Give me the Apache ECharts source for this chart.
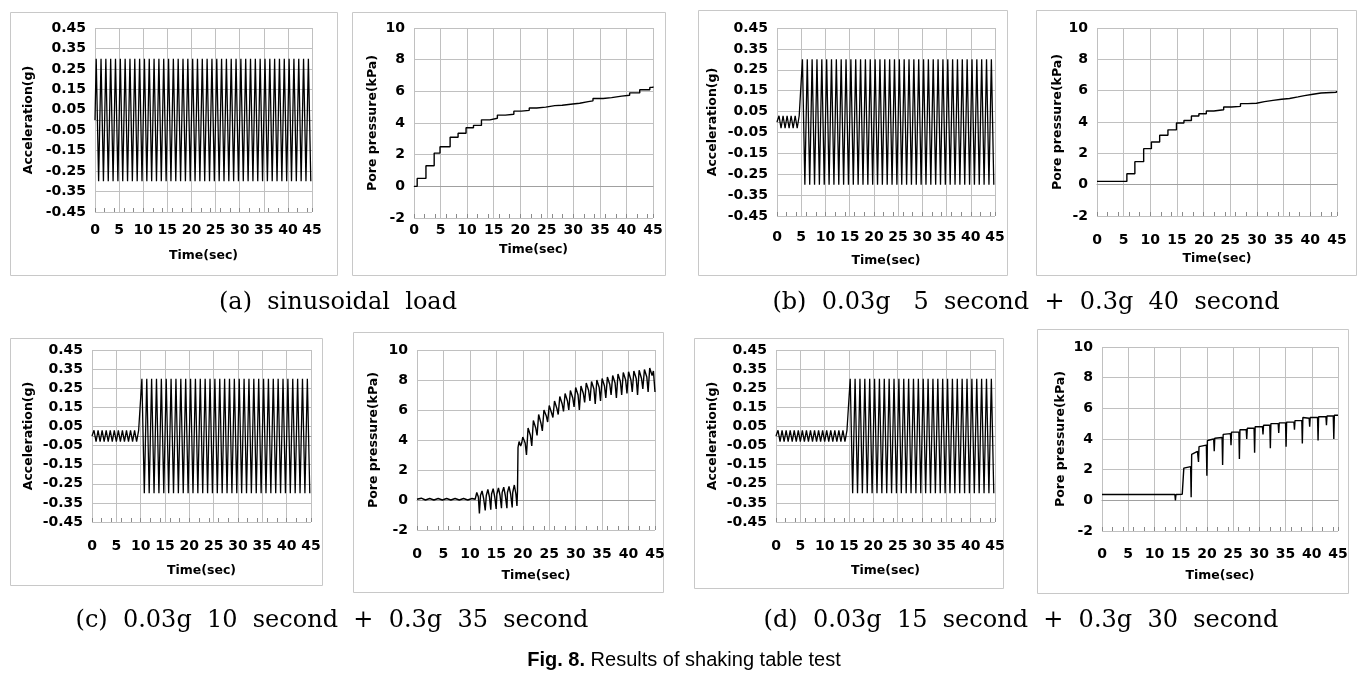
<!DOCTYPE html>
<html lang="en">
<head>
<meta charset="UTF-8">
<title>Fig. 8</title>
<style>
  html, body { margin: 0; padding: 0; background: #fff; }
  #main { width: 1368px; height: 681px; }
</style>
</head>
<body>
<div id="main"></div>
<script src="https://cdn.jsdelivr.net/npm/echarts@6/dist/echarts.min.js"></script>
<script>
// ---- data ----
// acceleration: extremes of the 0.03g part (1.2 Hz) and the 0.3g part (1 Hz)
const SMALL_STEP = 5 / 12;   // half period of the 0.03g shaking
const BIG_STEP = 0.5;        // half period of the 0.3g shaking
const accSwitch = [0, 5, 10, 15];  // when the 0.3g shaking starts, (a)..(d)

const accSmallA = [0];
const accBigA = [
  0.3, -0.3, 0.3, -0.3, 0.3, -0.3, 0.3, -0.3, 0.3, -0.3,
  0.3, -0.3, 0.3, -0.3, 0.3, -0.3, 0.3, -0.3, 0.3, -0.3,
  0.3, -0.3, 0.3, -0.3, 0.3, -0.3, 0.3, -0.3, 0.3, -0.3,
  0.3, -0.3, 0.3, -0.3, 0.3, -0.3, 0.3, -0.3, 0.3, -0.3,
  0.3, -0.3, 0.3, -0.3, 0.3, -0.3, 0.3, -0.3, 0.3, -0.3,
  0.3, -0.3, 0.3, -0.3, 0.3, -0.3, 0.3, -0.3, 0.3, -0.3,
  0.3, -0.3, 0.3, -0.3, 0.3, -0.3, 0.3, -0.3, 0.3, -0.3,
  0.3, -0.3, 0.3, -0.3, 0.3, -0.3, 0.3, -0.3, 0.3, -0.3,
  0.3, -0.3, 0.3, -0.3, 0.3, -0.3, 0.3, -0.3, 0.3, -0.3
];

const accSmallB = [0, 0.03, -0.03, 0.03, -0.03, 0.03, -0.03, 0.03, -0.03, 0.03, -0.03, 0.03];
const accBigB = [
  0.3, -0.3, 0.3, -0.3, 0.3, -0.3, 0.3, -0.3, 0.3, -0.3,
  0.3, -0.3, 0.3, -0.3, 0.3, -0.3, 0.3, -0.3, 0.3, -0.3,
  0.3, -0.3, 0.3, -0.3, 0.3, -0.3, 0.3, -0.3, 0.3, -0.3,
  0.3, -0.3, 0.3, -0.3, 0.3, -0.3, 0.3, -0.3, 0.3, -0.3,
  0.3, -0.3, 0.3, -0.3, 0.3, -0.3, 0.3, -0.3, 0.3, -0.3,
  0.3, -0.3, 0.3, -0.3, 0.3, -0.3, 0.3, -0.3, 0.3, -0.3,
  0.3, -0.3, 0.3, -0.3, 0.3, -0.3, 0.3, -0.3, 0.3, -0.3,
  0.3, -0.3, 0.3, -0.3, 0.3, -0.3, 0.3, -0.3, 0.3, -0.3
];

const accSmallC = [
  0, 0.03, -0.03, 0.03, -0.03, 0.03, -0.03, 0.03, -0.03, 0.03, -0.03, 0.03,
  -0.03, 0.03, -0.03, 0.03, -0.03, 0.03, -0.03, 0.03, -0.03, 0.03, -0.03, 0.03
];
const accBigC = [
  0.3, -0.3, 0.3, -0.3, 0.3, -0.3, 0.3, -0.3, 0.3, -0.3,
  0.3, -0.3, 0.3, -0.3, 0.3, -0.3, 0.3, -0.3, 0.3, -0.3,
  0.3, -0.3, 0.3, -0.3, 0.3, -0.3, 0.3, -0.3, 0.3, -0.3,
  0.3, -0.3, 0.3, -0.3, 0.3, -0.3, 0.3, -0.3, 0.3, -0.3,
  0.3, -0.3, 0.3, -0.3, 0.3, -0.3, 0.3, -0.3, 0.3, -0.3,
  0.3, -0.3, 0.3, -0.3, 0.3, -0.3, 0.3, -0.3, 0.3, -0.3,
  0.3, -0.3, 0.3, -0.3, 0.3, -0.3, 0.3, -0.3, 0.3, -0.3
];

const accSmallD = [
  0, 0.03, -0.03, 0.03, -0.03, 0.03, -0.03, 0.03, -0.03, 0.03, -0.03, 0.03,
  -0.03, 0.03, -0.03, 0.03, -0.03, 0.03, -0.03, 0.03, -0.03, 0.03, -0.03, 0.03,
  -0.03, 0.03, -0.03, 0.03, -0.03, 0.03, -0.03, 0.03, -0.03, 0.03, -0.03, 0.03
];
const accBigD = [
  0.3, -0.3, 0.3, -0.3, 0.3, -0.3, 0.3, -0.3, 0.3, -0.3,
  0.3, -0.3, 0.3, -0.3, 0.3, -0.3, 0.3, -0.3, 0.3, -0.3,
  0.3, -0.3, 0.3, -0.3, 0.3, -0.3, 0.3, -0.3, 0.3, -0.3,
  0.3, -0.3, 0.3, -0.3, 0.3, -0.3, 0.3, -0.3, 0.3, -0.3,
  0.3, -0.3, 0.3, -0.3, 0.3, -0.3, 0.3, -0.3, 0.3, -0.3,
  0.3, -0.3, 0.3, -0.3, 0.3, -0.3, 0.3, -0.3, 0.3, -0.3
];

// pore pressure (kPa), [time, value]
const poreA = [
  [0, 0], [0.6, 0.5], [2.25, 1.3], [3.8, 2.1], [4.9, 2.5], [6.8, 3.1], [8.3, 3.35],
  [9.8, 3.7], [11.2, 3.85], [12.7, 4.2], [14.3, 4.3], [15.7, 4.5], [17.2, 4.55],
  [18.8, 4.75], [20.2, 4.8], [21.7, 4.95], [23.1, 5.0], [24.8, 5.1], [26.5, 5.12],
  [27.9, 5.2], [29.9, 5.25], [31.2, 5.35], [32.8, 5.4], [33.7, 5.55], [35.6, 5.6],
  [37.2, 5.7], [39.1, 5.75], [40.6, 5.9], [42.5, 6.1], [44.4, 6.25], [45, 6.3]
];
const poreB = [
  [0, 0.21], [5.6, 0.7], [7.1, 1.47], [8.75, 2.3], [10.2, 2.72], [11.75, 3.15],
  [13.3, 3.5], [14.9, 3.94], [16.3, 4.1], [17.7, 4.38], [19.1, 4.53], [20.5, 4.7],
  [21.9, 4.78], [23.75, 4.96], [25.2, 5.0], [26.9, 5.17], [28.3, 5.2], [29.9, 5.3],
  [31.4, 5.38], [33, 5.45], [34.6, 5.5], [36.1, 5.6], [37.7, 5.68], [38.9, 5.77],
  [40.5, 5.85], [42, 5.9], [44.9, 5.98], [45, 5.98]
];
const poreC = [
  [0, 0.05], [0.8, 0.12], [1.6, 0.0], [2.4, 0.1], [3.2, 0.0], [4.0, 0.1], [4.8, 0.0],
  [5.6, 0.1], [6.4, 0.0], [7.2, 0.1], [8.0, 0.0], [8.8, 0.1], [9.6, 0.0], [10.4, 0.1],
  [11.0, 0.05], [11.3, 0.5], [11.6, 0.2], [11.8, -0.9], [12.0, 0.3], [12.3, 0.6],
  [12.6, 0.1], [12.9, -0.7], [13.1, 0.3], [13.4, 0.7], [13.7, 0.2], [13.95, -0.65],
  [14.1, 0.4], [14.4, 0.75], [14.7, 0.2], [14.97, -0.6], [15.1, 0.4], [15.4, 0.8],
  [15.7, 0.3], [15.97, -0.55], [16.1, 0.5], [16.4, 0.85], [16.7, 0.3], [17.0, -0.55],
  [17.1, 0.5], [17.4, 0.9], [17.7, 0.4], [18.0, -0.5], [18.1, 0.5], [18.4, 1.0],
  [18.7, 0.4], [18.9, -0.4], [19.0, 0.6], [19.1, 3.5], [19.3, 3.9], [19.6, 3.6],
  [19.8, 3.8], [20.0, 4.2], [20.45, 3.8], [20.7, 3.0], [21.0, 4.8], [21.45, 4.3],
  [21.7, 3.6], [22.0, 5.3], [22.45, 4.8], [22.7, 4.3], [23.0, 5.7], [23.45, 5.1],
  [23.7, 4.6], [24.0, 6.0], [24.45, 5.6], [24.7, 5.2], [25.0, 6.3], [25.45, 5.8],
  [25.7, 5.5], [26.0, 6.6], [26.45, 6.1], [26.7, 5.7], [27.0, 6.9], [27.45, 6.4],
  [27.7, 5.9], [28.0, 7.1], [28.45, 6.6], [28.7, 6.0], [29.0, 7.3], [29.45, 6.8],
  [29.7, 6.2], [30.0, 7.5], [30.45, 7.0], [30.7, 6.0], [31.0, 7.6], [31.45, 7.1],
  [31.7, 6.5], [32.0, 7.8], [32.45, 7.3], [32.7, 6.6], [33.0, 7.9], [33.45, 7.4],
  [33.7, 6.4], [34.0, 8.0], [34.45, 7.5], [34.7, 6.6], [35.0, 8.1], [35.45, 7.6],
  [35.7, 6.8], [36.0, 8.2], [36.45, 7.7], [36.7, 7.0], [37.0, 8.3], [37.45, 7.8],
  [37.7, 6.8], [38.0, 8.4], [38.45, 7.9], [38.7, 7.0], [39.0, 8.5], [39.45, 8.0],
  [39.7, 7.1], [40.0, 8.55], [40.45, 8.0], [40.7, 7.2], [41.0, 8.6], [41.45, 8.1],
  [41.7, 7.0], [42.0, 8.65], [42.45, 8.1], [42.7, 7.4], [43.0, 8.7], [43.45, 8.2],
  [43.7, 7.2], [44.0, 8.8], [44.45, 8.3], [44.7, 8.6], [45.0, 7.2]
];
const poreD = [
  [0, 0.38], [13.9, 0.38], [14.0, 0.0], [14.1, 0.38], [15.3, 0.4], [15.6, 2.1],
  [15.8, 2.2], [16.9, 2.2], [17.0, 0.2], [17.1, 3.0], [17.3, 3.1], [18.2, 3.2],
  [18.4, 2.5], [18.5, 3.5], [19.9, 3.6], [20.0, 1.6], [20.1, 3.9], [21.3, 4.0],
  [21.4, 3.2], [21.5, 4.05], [22.9, 4.1], [23.0, 2.3], [23.1, 4.3], [24.5, 4.35],
  [24.6, 3.6], [24.7, 4.45], [26.1, 4.45], [26.2, 2.7], [26.3, 4.6], [27.5, 4.6],
  [27.6, 4.0], [27.7, 4.7], [29.0, 4.7], [29.1, 3.1], [29.2, 4.8], [30.6, 4.8],
  [30.7, 4.3], [30.8, 4.9], [32.0, 4.9], [32.1, 3.4], [32.2, 5.0], [33.6, 5.0],
  [33.7, 4.4], [33.8, 5.05], [35.0, 5.05], [35.1, 3.5], [35.2, 5.1], [36.6, 5.1],
  [36.7, 4.6], [36.8, 5.2], [38.1, 5.2], [38.2, 3.7], [38.3, 5.4], [39.5, 5.35],
  [39.6, 4.8], [39.7, 5.4], [41.1, 5.4], [41.2, 3.9], [41.3, 5.45], [42.7, 5.45],
  [42.8, 4.9], [42.9, 5.5], [44.1, 5.5], [44.2, 4.0], [44.3, 5.55], [45, 5.55]
];

const captions = [
  '(a)  sinusoidal  load',
  '(b)  0.03g   5  second  +  0.3g  40  second',
  '(c)  0.03g  10  second  +  0.3g  35  second',
  '(d)  0.03g  15  second  +  0.3g  30  second'
];

function waveData(small, big, switchT) {
  const pts = [];
  small.forEach((v, i) => pts.push([i * SMALL_STEP, v]));
  big.forEach((v, i) => pts.push([switchT + 0.25 + i * BIG_STEP, v]));
  return pts;
}

// ---- layout: one box + grid per panel ----
const panels = [
  { box: [10, 12, 327, 263], grid: [95, 28, 217, 184], kind: 'acc', nameGap: 60, margin: 11, xGap: 37 },
  { box: [352, 12, 313, 263], grid: [414, 28, 239, 190], kind: 'pore', nameGap: 35, margin: 5, xGap: 25 },
  { box: [698, 10, 309, 265], grid: [777, 28, 218, 188], kind: 'acc', nameGap: 58, margin: 14, xGap: 38 },
  { box: [1036, 10, 320, 265], grid: [1097, 28, 240, 188], kind: 'pore', nameGap: 32, margin: 17, xGap: 36 },
  { box: [10, 338, 312, 247], grid: [92, 350, 219, 172], kind: 'acc', nameGap: 57, margin: 17, xGap: 42 },
  { box: [353, 332, 310, 260], grid: [417, 350, 238, 180], kind: 'pore', nameGap: 37, margin: 17, xGap: 39 },
  { box: [694, 338, 309, 250], grid: [776, 350, 219, 172], kind: 'acc', nameGap: 57, margin: 17, xGap: 42 },
  { box: [1037, 329, 311, 264], grid: [1102, 347, 236, 184], kind: 'pore', nameGap: 35, margin: 16, xGap: 38 }
];

const seriesData = [
  waveData(accSmallA, accBigA, accSwitch[0]), poreA,
  waveData(accSmallB, accBigB, accSwitch[1]), poreB,
  waveData(accSmallC, accBigC, accSwitch[2]), poreC,
  waveData(accSmallD, accBigD, accSwitch[3]), poreD
];

const labelFont = { fontFamily: 'DejaVu Sans', fontWeight: 'bold', fontSize: 14, color: '#000' };
const nameFont = { fontFamily: 'DejaVu Sans', fontWeight: 'bold', fontSize: 12.5, color: '#000' };
const gridColor = '#c0c0c0';

const grids = [], xAxes = [], yAxes = [], series = [], graphics = [];

panels.forEach((p, i) => {
  grids.push({ left: p.grid[0], top: p.grid[1], width: p.grid[2], height: p.grid[3], containLabel: false });
  xAxes.push({
    type: 'value', gridIndex: i, min: 0, max: 45, interval: 5,
    name: 'Time(sec)', nameLocation: 'middle', nameGap: p.xGap, nameTextStyle: nameFont,
    axisLine: { show: true, lineStyle: { color: '#a0a0a0' } },
    axisTick: { show: false },
    axisLabel: Object.assign({ margin: p.margin }, labelFont),
    splitLine: { show: true, lineStyle: { color: gridColor, width: 1 } }
  });
  const acc = p.kind === 'acc';
  yAxes.push({
    type: 'value', gridIndex: i,
    min: acc ? -0.45 : -2, max: acc ? 0.45 : 10, interval: acc ? 0.1 : 2,
    name: acc ? 'Acceleration(g)' : 'Pore pressure(kPa)',
    nameLocation: 'middle', nameGap: p.nameGap, nameTextStyle: nameFont,
    axisLine: { show: false }, axisTick: { show: false },
    axisLabel: Object.assign({
      margin: 9,
      formatter: v => acc ? v.toFixed(2) : String(Math.round(v))
    }, labelFont),
    splitLine: { show: true, lineStyle: { color: gridColor, width: 1 } }
  });
  series.push({
    type: 'line', xAxisIndex: i, yAxisIndex: i,
    data: seriesData[i], showSymbol: false, animation: false,
    step: (i === 1 || i === 3) ? 'end' : false,
    lineStyle: { color: '#000', width: acc ? 1.3 : 1.4 },
    silent: true
  });
  graphics.push({
    type: 'rect', silent: true,
    shape: { x: p.box[0] + 0.5, y: p.box[1] + 0.5, width: p.box[2], height: p.box[3] },
    style: { fill: 'none', stroke: '#c8c8c8', lineWidth: 1 }
  });
});

// minor tick marks along each time axis, every 2 s, pointing inside
panels.forEach((p, i) => {
  xAxes.push({
    type: 'value', gridIndex: i, min: 0, max: 45, interval: 2, position: 'bottom',
    axisLine: { show: false },
    axisTick: { show: true, inside: true, length: 4, lineStyle: { color: '#8a8a8a' } },
    axisLabel: { show: false }, splitLine: { show: false }
  });
});

const capPos = [[338, 303], [1026, 303], [332, 621], [1021, 621]];
captions.forEach((c, i) => {
  graphics.push({
    type: 'text', silent: true,
    style: {
      text: c, x: capPos[i][0], y: capPos[i][1],
      textAlign: 'center', textVerticalAlign: 'middle',
      font: '24px "DejaVu Serif"', fill: '#000'
    }
  });
});
graphics.push({
  type: 'text', silent: true,
  style: {
    text: '{b|Fig. 8.} Results of shaking table test',
    x: 684, y: 660, textAlign: 'center', textVerticalAlign: 'middle',
    font: '20px "Liberation Sans"', fill: '#000',
    rich: { b: { fontWeight: 'bold', fontFamily: 'Liberation Sans', fontSize: 20 } }
  }
});

const myChart = echarts.init(document.getElementById('main'));
myChart.setOption({
  animation: false,
  backgroundColor: '#fff',
  grid: grids,
  xAxis: xAxes,
  yAxis: yAxes,
  series: series,
  graphic: graphics
});
</script>
</body>
</html>
